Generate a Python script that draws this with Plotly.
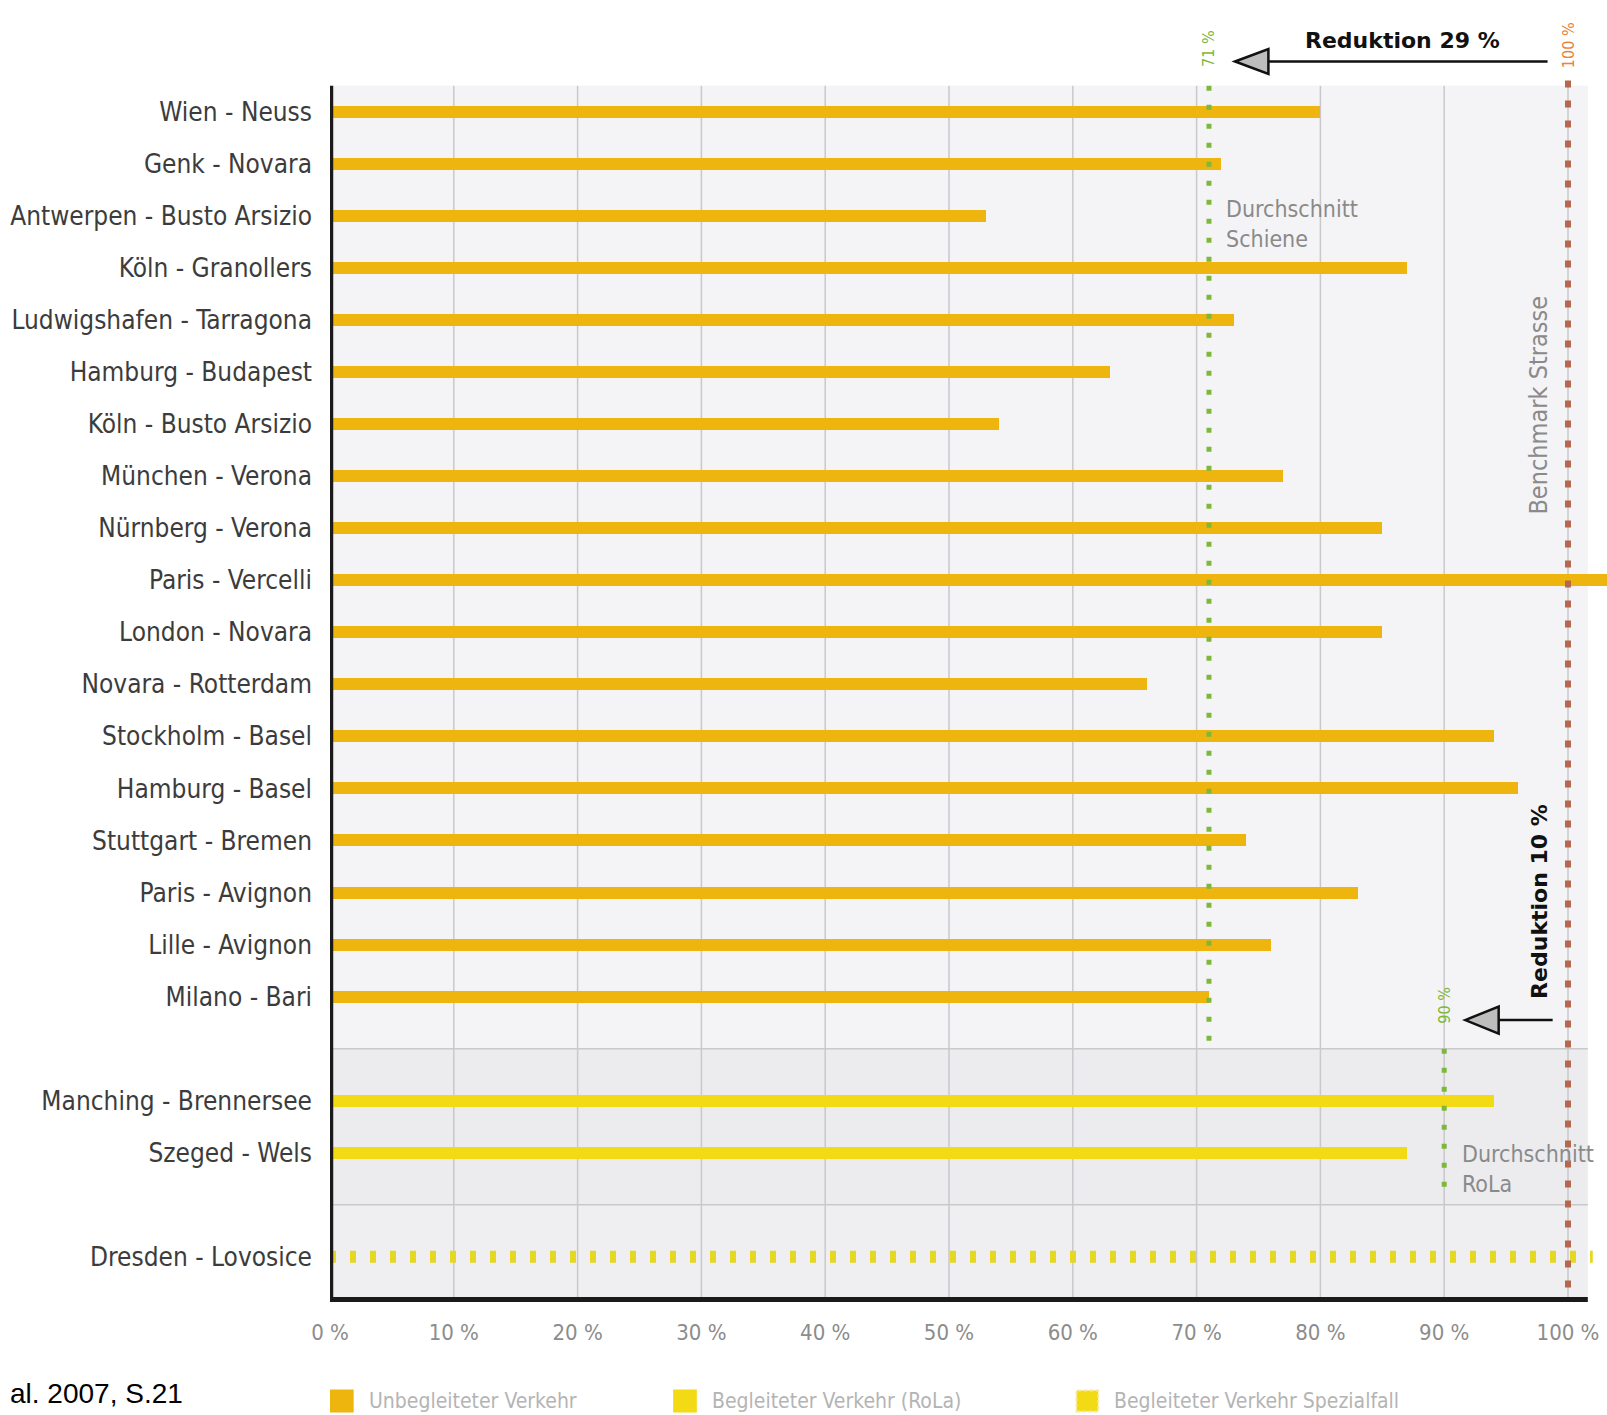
import plotly.graph_objects as go

# ---------------- data ----------------
routes_unbegleitet = [
    "Wien - Neuss", "Genk - Novara", "Antwerpen - Busto Arsizio", "Köln - Granollers",
    "Ludwigshafen - Tarragona", "Hamburg - Budapest", "Köln - Busto Arsizio",
    "München - Verona", "Nürnberg - Verona", "Paris - Vercelli", "London - Novara",
    "Novara - Rotterdam", "Stockholm - Basel", "Hamburg - Basel", "Stuttgart - Bremen",
    "Paris - Avignon", "Lille - Avignon", "Milano - Bari",
]
values_unbegleitet = [80, 72, 53, 87, 73, 63, 54, 77, 85, 105, 85, 66, 94, 96, 74, 83, 76, 71]

routes_rola = ["Manching - Brennersee", "Szeged - Wels"]
values_rola = [94, 87]

routes_spezial = ["Dresden - Lovosice"]
values_spezial = [102]

avg_schiene = 71
avg_rola = 90
benchmark_strasse = 100

x_ticks = [0, 10, 20, 30, 40, 50, 60, 70, 80, 90, 100]
x_tick_labels = ["0 %", "10 %", "20 %", "30 %", "40 %", "50 %", "60 %", "70 %", "80 %", "90 %", "100 %"]
legend_labels = ["Unbegleiteter Verkehr", "Begleiteter Verkehr (RoLa)", "Begleiteter Verkehr Spezialfall"]

# ---------------- layout constants ----------------
W, H = 1607, 1415
Y_TOP, Y_BOT = -2.147, 22.867
X_MAX = 103.15
CHART_TOP = -0.5
AXIS_END = 101.6
SEP1, SEP2 = 18, 21

ORANGE = "#EFB50F"
YELLOW = "#F2DA14"
YELLOW_DOT = "#E4D820"
GREEN = "#7DB83A"
RED = "#B5674F"
GRID = "#C9C9CC"
COND = "DejaVu Sans Condensed, DejaVu Sans, sans-serif"
BOLD = "DejaVu Sans, sans-serif"

slots1 = list(range(len(routes_unbegleitet)))
start2 = len(routes_unbegleitet) + 1
slots2 = [start2 + i for i in range(len(routes_rola))]
start3 = slots2[-1] + 2
slots3 = [start3 + i for i in range(len(routes_spezial))]

fig = go.Figure()

fig.add_trace(go.Bar(
    orientation="h", x=values_unbegleitet, y=slots1, width=0.23,
    marker=dict(color=ORANGE, line=dict(width=0)), showlegend=False, hoverinfo="skip"))
fig.add_trace(go.Bar(
    orientation="h", x=values_rola, y=slots2, width=0.23,
    marker=dict(color=YELLOW, line=dict(width=0)), showlegend=False, hoverinfo="skip"))
for v, s in zip(values_spezial, slots3):
    fig.add_trace(go.Scatter(
        x=[0, v], y=[s, s], mode="lines",
        line=dict(color=YELLOW_DOT, width=12, dash="6px,14px"),
        showlegend=False, hoverinfo="skip"))

# reference lines
fig.add_trace(go.Scatter(x=[avg_schiene, avg_schiene], y=[CHART_TOP, SEP1], mode="lines",
                         line=dict(color=GREEN, width=5, dash="5px,14px"),
                         showlegend=False, hoverinfo="skip"))
fig.add_trace(go.Scatter(x=[avg_rola, avg_rola], y=[SEP1, 20.8], mode="lines",
                         line=dict(color=GREEN, width=5, dash="5px,14px"),
                         showlegend=False, hoverinfo="skip"))
fig.add_trace(go.Scatter(x=[benchmark_strasse, benchmark_strasse], y=[CHART_TOP - 0.1, Y_BOT], mode="lines",
                         line=dict(color=RED, width=6, dash="7px,13px"),
                         showlegend=False, hoverinfo="skip"))

shapes = []
# background panels
shapes.append(dict(type="rect", xref="x", yref="y", x0=0, x1=AXIS_END, y0=CHART_TOP, y1=SEP1,
                   fillcolor="#F4F4F6", line=dict(width=0), layer="below"))
shapes.append(dict(type="rect", xref="x", yref="y", x0=0, x1=AXIS_END, y0=SEP1, y1=SEP2,
                   fillcolor="#ECECEE", line=dict(width=0), layer="below"))
shapes.append(dict(type="rect", xref="x", yref="y", x0=0, x1=AXIS_END, y0=SEP2, y1=Y_BOT,
                   fillcolor="#EFEFF1", line=dict(width=0), layer="below"))
# gridlines
for t in x_ticks[1:]:
    shapes.append(dict(type="line", xref="x", yref="y", x0=t, x1=t, y0=CHART_TOP, y1=Y_BOT,
                       line=dict(color=GRID, width=1.5), layer="below"))
for s in (SEP1, SEP2):
    shapes.append(dict(type="line", xref="x", yref="y", x0=0, x1=AXIS_END, y0=s, y1=s,
                       line=dict(color=GRID, width=1.5), layer="below"))
# axes
shapes.append(dict(type="line", xref="x", yref="y", x0=0.1, x1=0.1, y0=CHART_TOP, y1=Y_BOT,
                   line=dict(color="#1A1A1A", width=4), layer="above"))
shapes.append(dict(type="line", xref="x", yref="y", x0=0, x1=AXIS_END, y0=22.82, y1=22.82,
                   line=dict(color="#1A1A1A", width=5), layer="above"))

# arrows (Reduktion)
def arrow(tip_x, base_x, end_x, y, half):
    return [
        dict(type="line", xref="x", yref="y", x0=base_x, x1=end_x, y0=y, y1=y,
             line=dict(color="#111111", width=2.5), layer="above"),
        dict(type="path", xref="x", yref="y",
             path=f"M {tip_x},{y} L {base_x},{y - half} L {base_x},{y + half} Z",
             fillcolor="#BDBDBD", line=dict(color="#111111", width=2.5), layer="above"),
    ]

shapes += arrow(73.1, 75.8, 98.35, -0.965, 0.24)
shapes += arrow(91.7, 94.4, 98.76, 17.45, 0.26)

# legend squares
leg_x = [0.08, 27.8, 60.3]
leg_colors = [ORANGE, YELLOW, YELLOW]
for i, (lx, c) in enumerate(zip(leg_x, leg_colors)):
    shapes.append(dict(type="rect", xref="x", yref="paper", x0=lx, x1=lx + 1.75,
                       y0=-0.0841, y1=-0.0679, fillcolor=c,
                       line=dict(color="#F6E79A" if i == 2 else c, width=2,
                                 dash="dot" if i == 2 else "solid")))

annotations = []
annotations.append(dict(x=86.6, y=-1.36, xref="x", yref="y", text="<b>Reduktion 29 %</b>",
                        showarrow=False, font=dict(family=BOLD, size=22, color="#111111")))
annotations.append(dict(x=97.7, y=15.17, xref="x", yref="y", text="<b>Reduktion 10 %</b>",
                        textangle=-90, showarrow=False, font=dict(family=BOLD, size=22, color="#111111")))
annotations.append(dict(x=avg_schiene, y=-1.225, xref="x", yref="y", text=f"{avg_schiene} %",
                        textangle=-90, showarrow=False, font=dict(family=COND, size=16, color=GREEN)))
annotations.append(dict(x=avg_rola, y=17.17, xref="x", yref="y", text=f"{avg_rola} %",
                        textangle=-90, showarrow=False, font=dict(family=COND, size=16, color=GREEN)))
annotations.append(dict(x=benchmark_strasse, y=-1.28, xref="x", yref="y", text=f"{benchmark_strasse} %",
                        textangle=-90, showarrow=False, font=dict(family=COND, size=16, color="#E8833A")))
annotations.append(dict(x=72.2, y=2.16, xref="x", yref="y", text="Durchschnitt<br>Schiene",
                        xanchor="left", align="left", showarrow=False,
                        font=dict(family=COND, size=23, color="#8A8A8A")))
annotations.append(dict(x=91.3, y=20.32, xref="x", yref="y", text="Durchschnitt<br>RoLa",
                        xanchor="left", align="left", showarrow=False,
                        font=dict(family=COND, size=23, color="#8A8A8A")))
annotations.append(dict(x=97.6, y=5.64, xref="x", yref="y", text="Benchmark Strasse",
                        textangle=-90, showarrow=False,
                        font=dict(family=COND, size=25, color="#8A8A8A")))
for lx, lab in zip(leg_x, legend_labels):
    annotations.append(dict(x=lx + 2.9, y=-0.0757, xref="x", yref="paper", text=lab,
                            xanchor="left", yanchor="middle", showarrow=False,
                            font=dict(family=COND, size=21, color="#B4B4B4")))
annotations.append(dict(x=-0.2522, y=-0.057, xref="paper", yref="paper", text="al. 2007, S.21",
                        xanchor="left", yanchor="top", showarrow=False,
                        font=dict(family="Liberation Sans, Arial, sans-serif", size=28, color="#000000")))

all_slots = slots1 + slots2 + slots3
all_routes = routes_unbegleitet + routes_rola + routes_spezial

fig.update_layout(
    width=W, height=H,
    margin=dict(l=330, r=0, t=0, b=113.4, pad=0, autoexpand=False),
    paper_bgcolor="white", plot_bgcolor="white",
    bargap=0, showlegend=False,
    shapes=shapes, annotations=annotations,
    xaxis=dict(range=[0, X_MAX], showgrid=False, zeroline=False, showline=False,
               automargin=False,
               tickmode="array", tickvals=x_ticks, ticktext=x_tick_labels, ticks="",
               ticklabelstandoff=15,
               tickfont=dict(family=COND, size=22, color="#8C8C8C")),
    yaxis=dict(range=[Y_BOT, Y_TOP], showgrid=False, zeroline=False, showline=False,
               automargin=False,
               tickmode="array", tickvals=all_slots, ticktext=all_routes, ticks="",
               ticklabelstandoff=17,
               tickfont=dict(family=COND, size=26, color="#3C3C3C")),
)

fig.write_html("out.html")
